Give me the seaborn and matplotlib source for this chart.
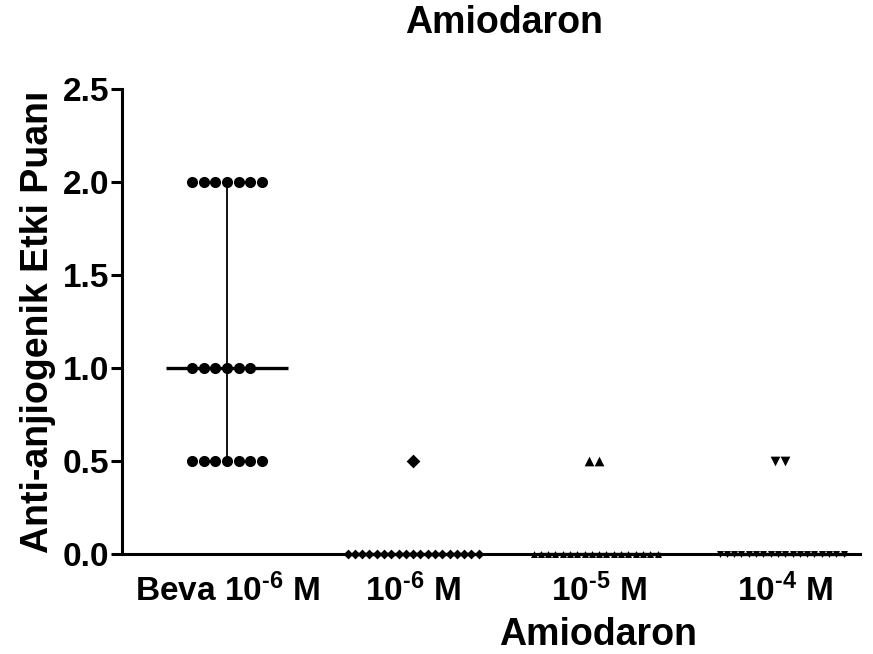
import seaborn as sns
import numpy as np
import matplotlib.pyplot as plt
import pandas as pd

# Scores (20 eggs per group)
groups = ["Beva 10$^{\\text{-6}}$ M", "10$^{\\text{-6}}$ M", "10$^{\\text{-5}}$ M", "10$^{\\text{-4}}$ M"]
beva = [2.0] * 7 + [1.0] * 6 + [0.5] * 7
amio_6 = [0.5] + [0.0] * 19
amio_5 = [0.5] * 2 + [0.0] * 18
amio_4 = [0.5] * 2 + [0.0] * 18
markers = ["o", "D", "^", "v"]
yticks = [0.0, 0.5, 1.0, 1.5, 2.0, 2.5]

sns.set_theme(style="ticks")
plt.rcParams["font.family"] = ["Liberation Sans", "DejaVu Sans"]
plt.rcParams["font.weight"] = "bold"
plt.rcParams["mathtext.fontset"] = "custom"
plt.rcParams["mathtext.rm"] = "Liberation Sans:bold"
plt.rcParams["mathtext.bf"] = "Liberation Sans:bold"
plt.rcParams["mathtext.default"] = "bf"
for k in ["text.color", "axes.labelcolor", "xtick.color", "ytick.color", "axes.edgecolor"]:
    plt.rcParams[k] = "black"

values = [beva, amio_6, amio_5, amio_4]
df = pd.DataFrame({
    "group": np.repeat(groups, [len(v) for v in values]),
    "score": np.concatenate(values),
})

fig = plt.figure(figsize=(8.73, 6.54), dpi=100)
ax = fig.add_axes([0.1397, 0.153, 0.845, 0.711])

for g, m in zip(groups, markers):
    sub = df[df["group"] == g]
    big = 8 if m == "o" else 7
    # the zero rows are packed tight in the original, so draw them smaller
    sns.swarmplot(data=sub[sub["score"] > 0], x="group", y="score", order=groups,
                  marker=m, color="black", size=big, ax=ax, zorder=3)
    sns.swarmplot(data=sub[sub["score"] == 0], x="group", y="score", order=groups,
                  marker=m, color="black", size=5, ax=ax, zorder=3, warn_thresh=1)

for c in ax.collections:
    c.set_clip_on(False)

# median with interquartile range
for i, v in enumerate(values):
    med = np.median(v)
    q1, q3 = np.percentile(v, [25, 75])
    ax.hlines(med, i - 0.33, i + 0.33, color="black", lw=2.4, zorder=4, clip_on=False)
    if q3 > q1:
        ax.vlines(i, q1, q3, color="black", lw=1.3, zorder=2)

ax.set_xlim(-0.565, 3.4)
ax.set_ylim(0, 2.5)
ax.set_yticks(yticks)
ax.set_yticklabels([f"{t:.1f}" for t in yticks], fontsize=24, fontweight="bold")
ax.set_xticks(range(len(groups)))
ax.set_xticklabels(groups, fontsize=24, fontweight="bold")
ax.tick_params(axis="y", length=8, width=2.2, pad=1)
ax.tick_params(axis="x", length=0, pad=14)
for s in ["left", "bottom"]:
    ax.spines[s].set_linewidth(2.2)
sns.despine(ax=ax)

ax.set_ylabel("Anti-anjiogenik Etki Puanı", fontsize=27, fontweight="bold", labelpad=5)
ax.set_xlabel("Amiodaron", fontsize=27, fontweight="bold", labelpad=0)
ax.xaxis.set_label_coords(0.646, -0.135)
fig.text(0.577, 0.965, "Amiodaron", fontsize=27, fontweight="bold", ha="center", va="center")

plt.savefig("out.png", dpi=100)
plt.close()
